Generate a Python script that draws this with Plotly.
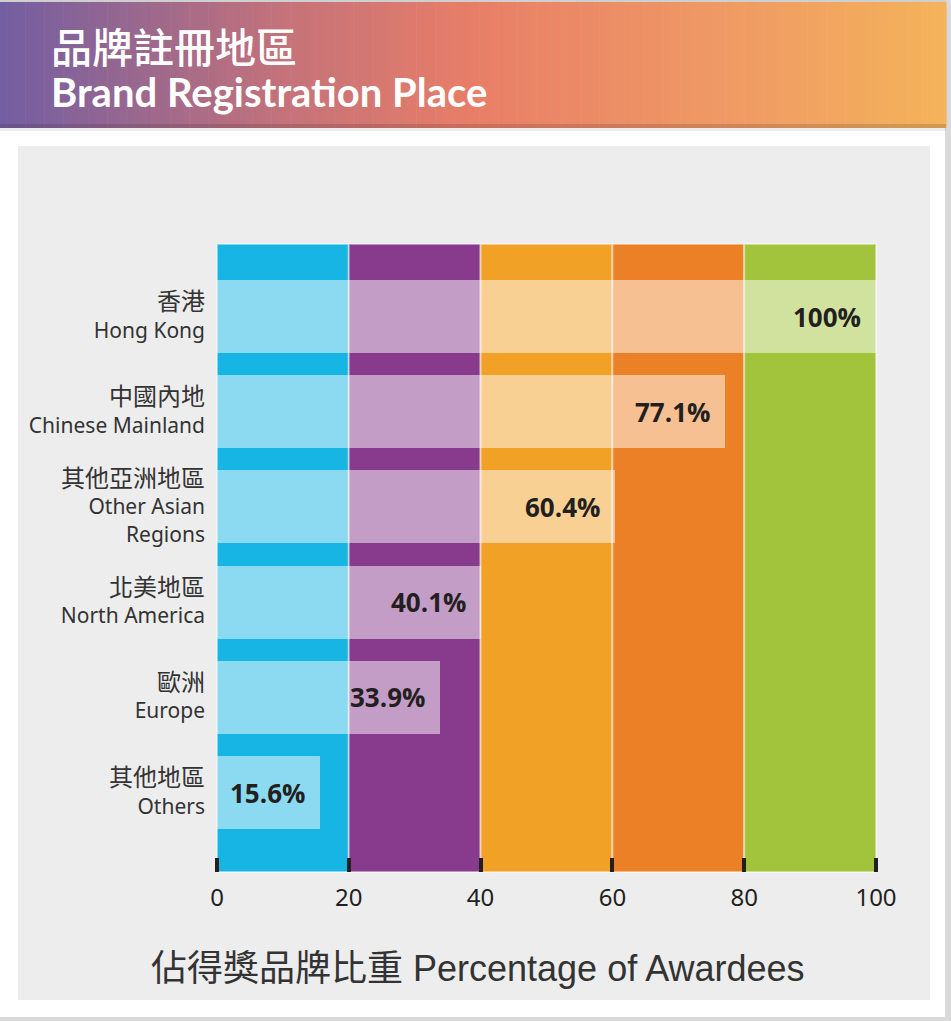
import plotly.graph_objects as go

# ---------------- data ----------------
categories_zh = ["香港", "中國內地", "其他亞洲地區", "北美地區", "歐洲", "其他地區"]
categories_en = ["Hong Kong", "Chinese Mainland", "Other Asian<br>Regions", "North America", "Europe", "Others"]
values = [100, 77.1, 60.4, 40.1, 33.9, 15.6]
value_labels = ["100%", "77.1%", "60.4%", "40.1%", "33.9%", "15.6%"]
x_ticks = [0, 20, 40, 60, 80, 100]
band_edges = [0, 20, 40, 60, 80, 100]
band_colors = ["#17b5e3", "#883b8d", "#f0a126", "#ec8027", "#a2c43d"]

title_zh = "品牌註冊地區"
title_en = "Brand Registration Place"
axis_title = "佔得獎品牌比重 Percentage of Awardees"

W, H = 951, 1021
def X(px):
    return px / W
def Y(py):
    return 1 - py / H

FONT = "Noto Sans, Noto Sans CJK TC, sans-serif"

labels = [f"<span style='font-size:24px'>{z}</span><br>{e}" for z, e in zip(categories_zh, categories_en)]
ypos = list(range(len(labels)))

fig = go.Figure()
fig.add_trace(go.Bar(
    x=values, y=ypos, orientation="h", width=0.767,
    marker=dict(color="rgba(255,255,255,0.5)", line=dict(width=0)),
    hoverinfo="skip", showlegend=False,
))

shapes = []
# page frame shadow
shapes.append(dict(type="rect", xref="paper", yref="paper", x0=X(945), x1=X(951), y0=Y(0), y1=Y(1021),
                   fillcolor="#d9d9d9", line=dict(width=0), layer="below"))
shapes.append(dict(type="rect", xref="paper", yref="paper", x0=X(0), x1=X(951), y0=Y(1017), y1=Y(1021),
                   fillcolor="#d9d9d9", line=dict(width=0), layer="below"))
# gray panel
shapes.append(dict(type="rect", xref="paper", yref="paper", x0=X(18), x1=X(930), y0=Y(146), y1=Y(1000),
                   fillcolor="#ededed", line=dict(width=0), layer="below"))

# header gradient (strips)
stops = [(0.0, (114, 94, 162)), (0.3, (196, 114, 122)), (0.5, (232, 126, 103)),
         (0.75, (239, 152, 101)), (1.0, (244, 179, 90))]
def grad(t):
    for (t0, c0), (t1, c1) in zip(stops[:-1], stops[1:]):
        if t <= t1:
            f = (t - t0) / (t1 - t0)
            return tuple(int(round(a + (b - a) * f)) for a, b in zip(c0, c1))
    return stops[-1][1]
n = 150
hx0, hx1 = 0, 946
for i in range(n):
    xa = hx0 + (hx1 - hx0) * i / n
    xb = hx0 + (hx1 - hx0) * (i + 1) / n + 0.6
    c = grad((i + 0.5) / n)
    shapes.append(dict(type="rect", xref="paper", yref="paper", x0=X(xa), x1=X(xb), y0=Y(2), y1=Y(128),
                       fillcolor=f"rgb{c}", line=dict(width=0), layer="below"))
# header bottom shade
shapes.append(dict(type="rect", xref="paper", yref="paper", x0=X(0), x1=X(946), y0=Y(124), y1=Y(128),
                   fillcolor="rgba(60,40,40,0.18)", line=dict(width=0), layer="below"))
shapes.append(dict(type="rect", xref="paper", yref="paper", x0=X(0), x1=X(946), y0=Y(128), y1=Y(131),
                   fillcolor="rgba(0,0,0,0.07)", line=dict(width=0), layer="below"))
shapes.append(dict(type="rect", xref="paper", yref="paper", x0=X(0), x1=X(946), y0=Y(0), y1=Y(2),
                   fillcolor="#cfcfcf", line=dict(width=0), layer="below"))

# colored bands
for i, col in enumerate(band_colors):
    shapes.append(dict(type="rect", xref="x", yref="y domain", x0=band_edges[i], x1=band_edges[i + 1],
                       y0=0, y1=1, fillcolor=col,
                       line=dict(color="rgba(255,255,255,0.45)", width=2), layer="below"))

annotations = []
for v, lab, yy in zip(values, value_labels, ypos):
    annotations.append(dict(x=v, y=yy, xref="x", yref="y", text=f"<b>{lab}</b>", showarrow=False,
                            xanchor="right", yanchor="middle", xshift=-13,
                            font=dict(family="Open Sans, Noto Sans, sans-serif", size=26, color="#231f20")))
annotations.append(dict(
    x=X(49), y=Y(65), xref="paper", yref="paper",
    text=(f"<span style='font-family:Noto Sans CJK TC;font-size:41px;font-weight:500'>{title_zh}</span><br>"
          f"<b><span style='font-size:40px'>{title_en}</span></b>"),
    showarrow=False, xanchor="left", yanchor="middle", align="left",
    font=dict(family="Lato, Noto Sans, sans-serif", size=34, color="white")))
annotations.append(dict(x=X(478), y=Y(968), xref="paper", yref="paper", text=axis_title, showarrow=False,
                        xanchor="center", yanchor="middle",
                        font=dict(family="Liberation Sans, Noto Sans CJK TC, sans-serif", size=36, color="#333333")))

fig.update_layout(
    width=W, height=H,
    autosize=False,
    margin=dict(l=0, r=0, t=0, b=0, autoexpand=False),
    paper_bgcolor="white",
    plot_bgcolor="rgba(0,0,0,0)",
    shapes=shapes,
    annotations=annotations,
    bargap=0,
    xaxis=dict(
        domain=[X(214), X(879)], range=[-100 * 3 / 659, 100 + 100 * 3 / 659],
        tickvals=x_ticks, ticktext=[str(t) for t in x_ticks],
        ticks="inside", ticklen=14, tickwidth=4, tickcolor="#231f20",
        showgrid=False, zeroline=False, showline=False, automargin=False,
        tickfont=dict(family=FONT, size=24, color="#231f20"), ticklabelstandoff=9,
    ),
    yaxis=dict(
        domain=[Y(872), Y(244)], range=[5.835, -0.762], tickvals=ypos, ticktext=labels,
        ticks="", showgrid=False, zeroline=False, showline=False, automargin=False,
        tickfont=dict(family=FONT, size=21, color="#333333"), ticklabelstandoff=8,
    ),
)

fig.write_html(
    "out.html",
    config={"responsive": False, "displayModeBar": False},
    post_script="document.body.style.margin='0';document.body.style.overflow='hidden';",
)
